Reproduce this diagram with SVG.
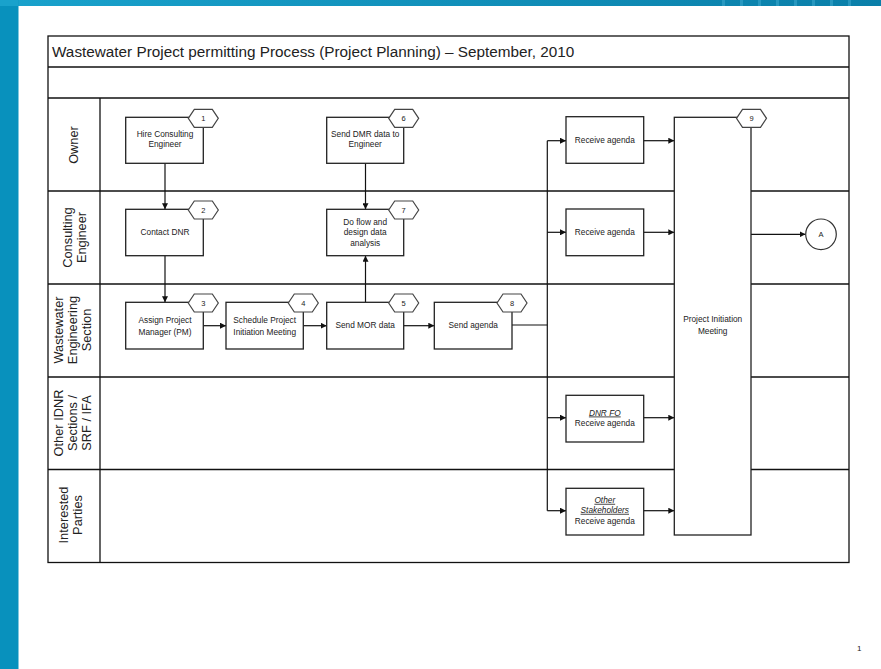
<svg xmlns="http://www.w3.org/2000/svg" width="881" height="669" viewBox="0 0 881 669">
<defs>
<linearGradient id="topbar" x1="0" y1="0" x2="1" y2="0">
<stop offset="0" stop-color="#19a2cc"/>
<stop offset="1" stop-color="#0a7fa9"/>
</linearGradient>
<marker id="arr" viewBox="0 0 8 8" refX="8" refY="4" markerWidth="6" markerHeight="6" orient="auto" markerUnits="userSpaceOnUse">
<path d="M0,0 L8,4 L0,8 z" fill="#111"/>
</marker>
<polygon id="hex" points="-15,0 -9,-9 9,-9 15,0 9,9 -9,9" fill="#fff" stroke="#444" stroke-width="1.2"/>
</defs>
<style>
.frame{fill:none;stroke:#111;stroke-width:1.3}
.ln{fill:none;stroke:#111;stroke-width:1.3}
.box{fill:#fff;stroke:#222;stroke-width:1.3}
.t{font-family:"Liberation Sans",Arial,sans-serif;font-size:8.3px;fill:#222;text-anchor:middle}
.num{font-family:"Liberation Sans",Arial,sans-serif;font-size:7.5px;fill:#222;text-anchor:middle}
.lane{font-family:"Liberation Sans",Arial,sans-serif;font-size:12.8px;fill:#222;text-anchor:middle}
.title{font-family:"Liberation Sans",Arial,sans-serif;font-size:15.3px;fill:#222}
.con{fill:none;stroke:#111;stroke-width:1.2;marker-end:url(#arr)}
.con0{fill:none;stroke:#111;stroke-width:1.2}
</style>
<rect width="881" height="669" fill="#fff"/>
<rect x="0" y="0" width="881" height="6" fill="url(#topbar)"/>
<g fill="#3aa6cc" opacity="0.6">
<rect x="722" y="0" width="3" height="6"/><rect x="740" y="0" width="3" height="6"/><rect x="758" y="0" width="3" height="6"/><rect x="776" y="0" width="3" height="6"/><rect x="794" y="0" width="3" height="6"/><rect x="812" y="0" width="3" height="6"/><rect x="830" y="0" width="3" height="6"/><rect x="848" y="0" width="3" height="6"/>
</g>
<rect x="0" y="0" width="18.5" height="669" fill="#0891bd"/>
<rect x="0" y="0" width="18.5" height="6" fill="#19a2cc"/>

<g id="frame">
<rect class="frame" x="48" y="36" width="801" height="526.5"/>
<line class="ln" x1="48" y1="67" x2="849" y2="67"/>
<line class="ln" x1="48" y1="98" x2="849" y2="98"/>
<line class="ln" x1="48" y1="191" x2="849" y2="191"/>
<line class="ln" x1="48" y1="284" x2="849" y2="284"/>
<line class="ln" x1="48" y1="377" x2="849" y2="377"/>
<line class="ln" x1="48" y1="469.5" x2="849" y2="469.5"/>
<line class="ln" x1="100" y1="98" x2="100" y2="562.5"/>
<text class="title" x="52" y="57">Wastewater Project permitting Process (Project Planning) – September, 2010</text>
</g>

<g id="lane-labels">
<text class="lane" transform="translate(77.5,145) rotate(-90)">Owner</text>
<text class="lane" transform="translate(72,237.5) rotate(-90)"><tspan x="0" y="0">Consulting</tspan><tspan x="0" y="14">Engineer</tspan></text>
<text class="lane" transform="translate(62.5,330) rotate(-90)"><tspan x="0" y="0">Wastewater</tspan><tspan x="0" y="14">Engineering</tspan><tspan x="0" y="28">Section</tspan></text>
<text class="lane" transform="translate(62.5,423) rotate(-90)"><tspan x="0" y="0">Other IDNR</tspan><tspan x="0" y="14">Sections /</tspan><tspan x="0" y="28">SRF / IFA</tspan></text>
<text class="lane" transform="translate(67.5,515) rotate(-90)"><tspan x="0" y="0">Interested</tspan><tspan x="0" y="14">Parties</tspan></text>
</g>

<g id="connectors">
<path class="con" d="M165,163.3 V209.3"/>
<path class="con" d="M165,255.7 V302.3"/>
<path class="con" d="M203.3,325.7 H226"/>
<path class="con" d="M303.3,325.7 H326.7"/>
<path class="con" d="M403.7,325.7 H434.3"/>
<path class="con" d="M365.5,163.3 V209.3"/>
<path class="con" d="M365.5,302.3 V255.7"/>
<path class="con0" d="M512,325 H547.3"/>
<path class="con0" d="M547.3,140.7 V510.7"/>
<path class="con" d="M547.3,140.7 H566"/>
<path class="con" d="M547.3,232.3 H566"/>
<path class="con" d="M547.3,417.7 H566"/>
<path class="con" d="M547.3,510.7 H566"/>
<path class="con" d="M643.7,140.7 H674.3"/>
<path class="con" d="M643.7,232.3 H674.3"/>
<path class="con" d="M643.7,417.7 H674.3"/>
<path class="con" d="M643.7,510.7 H674.3"/>
<path class="con" d="M751,234.3 H805.5"/>
</g>

<g id="n1">
<rect class="box" x="125.7" y="117.3" width="77.6" height="46"/>
<text class="t" x="165" y="137">Hire Consulting</text>
<text class="t" x="165" y="147">Engineer</text>
<use href="#hex" x="203.3" y="118.3"/>
<text class="num" x="203.3" y="121">1</text>
</g>
<g id="n2">
<rect class="box" x="125.7" y="209.3" width="77.6" height="46.4"/>
<text class="t" x="165" y="235">Contact DNR</text>
<use href="#hex" x="203.3" y="210"/>
<text class="num" x="203.3" y="212.7">2</text>
</g>
<g id="n3">
<rect class="box" x="125.7" y="302.3" width="77.6" height="46.7"/>
<text class="t" x="165" y="323">Assign Project</text>
<text class="t" x="165" y="334.5">Manager (PM)</text>
<use href="#hex" x="203.3" y="303"/>
<text class="num" x="203.3" y="305.7">3</text>
</g>
<g id="n4">
<rect class="box" x="226" y="302.3" width="77.3" height="46.7"/>
<text class="t" x="264.7" y="323">Schedule Project</text>
<text class="t" x="264.7" y="334.5">Initiation Meeting</text>
<use href="#hex" x="303.3" y="303"/>
<text class="num" x="303.3" y="305.7">4</text>
</g>
<g id="n5">
<rect class="box" x="326.7" y="302.3" width="77" height="46.7"/>
<text class="t" x="365.2" y="328">Send MOR data</text>
<use href="#hex" x="403.7" y="303"/>
<text class="num" x="403.7" y="305.7">5</text>
</g>
<g id="n6">
<rect class="box" x="326.7" y="117.3" width="77" height="46"/>
<text class="t" x="365.2" y="137">Send DMR data to</text>
<text class="t" x="365.2" y="147">Engineer</text>
<use href="#hex" x="403.7" y="118.3"/>
<text class="num" x="403.7" y="121">6</text>
</g>
<g id="n7">
<rect class="box" x="326.7" y="209.3" width="77" height="46.4"/>
<text class="t" x="365.2" y="225">Do flow and</text>
<text class="t" x="365.2" y="235">design data</text>
<text class="t" x="365.2" y="246">analysis</text>
<use href="#hex" x="403.7" y="210"/>
<text class="num" x="403.7" y="212.7">7</text>
</g>
<g id="n8">
<rect class="box" x="434.3" y="302.3" width="77.7" height="46.7"/>
<text class="t" x="473.2" y="328">Send agenda</text>
<use href="#hex" x="512" y="303"/>
<text class="num" x="512" y="305.7">8</text>
</g>
<g id="r-owner">
<rect class="box" x="566" y="116.7" width="77.7" height="46.6"/>
<text class="t" x="604.8" y="142.5">Receive agenda</text>
</g>
<g id="r-engineer">
<rect class="box" x="566" y="209" width="77.7" height="46.7"/>
<text class="t" x="604.8" y="234.8">Receive agenda</text>
</g>
<g id="r-dnrfo">
<rect class="box" x="566" y="395.3" width="77.7" height="46.7"/>
<text class="t" x="604.8" y="415.5" font-style="italic" text-decoration="underline">DNR FO</text>
<text class="t" x="604.8" y="425.5">Receive agenda</text>
</g>
<g id="r-stakeholders">
<rect class="box" x="566" y="488.3" width="77.7" height="46.7"/>
<text class="t" x="604.8" y="502.8" font-style="italic" text-decoration="underline">Other</text>
<text class="t" x="604.8" y="512.8" font-style="italic" text-decoration="underline">Stakeholders</text>
<text class="t" x="604.8" y="523.5">Receive agenda</text>
</g>
<g id="n9">
<rect class="box" x="674.3" y="117.3" width="76.7" height="417.7"/>
<text class="t" x="712.7" y="322">Project Initiation</text>
<text class="t" x="712.7" y="333.5">Meeting</text>
<use href="#hex" x="751.5" y="118.3"/>
<text class="num" x="751.5" y="121">9</text>
</g>
<g id="connector-A">
<circle cx="821" cy="234.3" r="15.3" fill="#fff" stroke="#333" stroke-width="1.2"/>
<text class="num" x="821" y="237.3">A</text>
</g>
<text x="857" y="651" font-family="Liberation Sans, Arial, sans-serif" font-size="8" fill="#222">1</text>
</svg>
